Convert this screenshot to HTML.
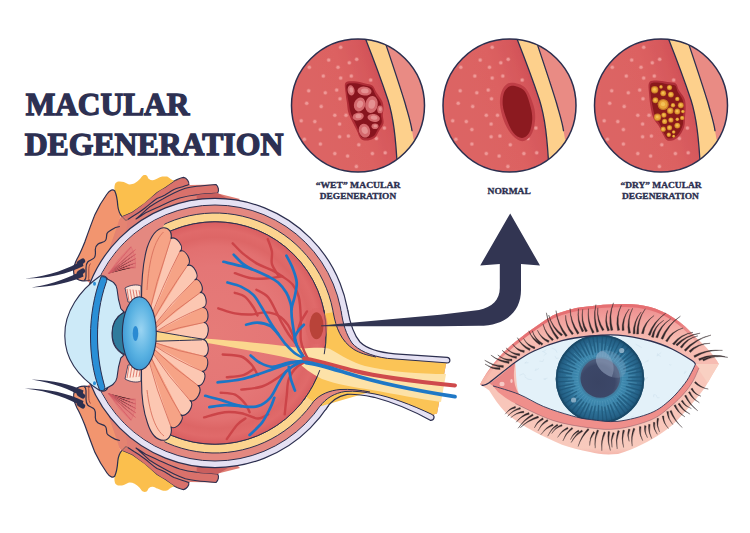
<!DOCTYPE html>
<html><head><meta charset="utf-8"><style>
html,body{margin:0;padding:0;background:#fff;width:750px;height:533px;overflow:hidden}
svg{display:block}
</style></head><body>
<svg width="750" height="533" viewBox="0 0 750 533">
<rect width="750" height="533" fill="#fff"/>

 <defs>
  <linearGradient id="cred" gradientUnits="userSpaceOnUse" x1="300" y1="120" x2="395" y2="88">
   <stop offset="0" stop-color="#dd6564"/>
   <stop offset="0.55" stop-color="#dc6262"/>
   <stop offset="0.8" stop-color="#d6585c"/>
   <stop offset="1" stop-color="#cc4a52"/>
  </linearGradient>
  <radialGradient id="inner" cx="215" cy="333" r="111.2" gradientUnits="userSpaceOnUse">
   <stop offset="0" stop-color="#e67b78"/>
   <stop offset="0.6" stop-color="#e47676"/>
   <stop offset="0.78" stop-color="#e27070"/>
   <stop offset="0.86" stop-color="#dd6666"/>
   <stop offset="0.93" stop-color="#e06a6a"/>
   <stop offset="1" stop-color="#d95e60"/>
  </radialGradient>
  <radialGradient id="lens" cx="0.55" cy="0.45" r="0.6">
   <stop offset="0" stop-color="#9ad4f2"/>
   <stop offset="0.6" stop-color="#5ab2e2"/>
   <stop offset="1" stop-color="#3a96d2"/>
  </radialGradient>
  <radialGradient id="iris" cx="600" cy="379" r="44" gradientUnits="userSpaceOnUse">
   <stop offset="0.44" stop-color="#4590b4"/>
   <stop offset="0.6" stop-color="#3a83a9"/>
   <stop offset="0.76" stop-color="#2f7298"/>
   <stop offset="0.9" stop-color="#27648a"/>
   <stop offset="1" stop-color="#1d5272"/>
  </radialGradient>
  <radialGradient id="pupil" cx="598" cy="382" r="21" gradientUnits="userSpaceOnUse">
   <stop offset="0" stop-color="#3a4464"/>
   <stop offset="0.8" stop-color="#3c4768"/>
   <stop offset="1" stop-color="#4a5878"/>
  </radialGradient>
  <linearGradient id="lidm" x1="0" y1="0" x2="0" y2="1">
   <stop offset="0" stop-color="#f3a29c"/>
   <stop offset="1" stop-color="#ec8884"/>
  </linearGradient>
 </defs>
 <g font-family="Liberation Serif" font-weight="bold" font-size="31.2" fill="#2d3052" stroke="#2d3052" stroke-width="1.3">
  <text x="25.65" y="114.75" textLength="163.7" lengthAdjust="spacingAndGlyphs">MACULAR</text>
  <text x="24.65" y="155.1" textLength="258.7" lengthAdjust="spacingAndGlyphs">DEGENERATION</text>
 </g>
 <g transform="translate(0,0.0)">
  <clipPath id="cc1"><circle cx="358" cy="105.5" r="66.5"/></clipPath>
  <g clip-path="url(#cc1)">
   <rect x="290" y="38" width="136" height="136" fill="url(#cred)"/>
   <g fill="#f3a6a4" opacity="0.8"><circle cx="340.7" cy="47.3" r="2.3" opacity="0.35"/><circle cx="340.7" cy="47.3" r="1.5"/><circle cx="328.7" cy="60" r="2.3" opacity="0.35"/><circle cx="328.7" cy="60" r="1.5"/><circle cx="349.3" cy="62.7" r="2.3" opacity="0.35"/><circle cx="349.3" cy="62.7" r="1.5"/><circle cx="356.7" cy="59.3" r="2.3" opacity="0.35"/><circle cx="356.7" cy="59.3" r="1.5"/><circle cx="309.3" cy="67.3" r="2.3" opacity="0.35"/><circle cx="309.3" cy="67.3" r="1.5"/><circle cx="338" cy="67.3" r="2.3" opacity="0.35"/><circle cx="338" cy="67.3" r="1.5"/><circle cx="323.3" cy="76" r="2.3" opacity="0.35"/><circle cx="323.3" cy="76" r="1.5"/><circle cx="340.7" cy="78" r="2.3" opacity="0.35"/><circle cx="340.7" cy="78" r="1.5"/><circle cx="351.3" cy="76" r="2.3" opacity="0.35"/><circle cx="351.3" cy="76" r="1.5"/><circle cx="370.7" cy="80" r="2.3" opacity="0.35"/><circle cx="370.7" cy="80" r="1.5"/><circle cx="308.7" cy="90.7" r="2.3" opacity="0.35"/><circle cx="308.7" cy="90.7" r="1.5"/><circle cx="325.3" cy="92.7" r="2.3" opacity="0.35"/><circle cx="325.3" cy="92.7" r="1.5"/><circle cx="336.7" cy="90" r="2.3" opacity="0.35"/><circle cx="336.7" cy="90" r="1.5"/><circle cx="340" cy="98.7" r="2.3" opacity="0.35"/><circle cx="340" cy="98.7" r="1.5"/><circle cx="306.7" cy="103.3" r="2.3" opacity="0.35"/><circle cx="306.7" cy="103.3" r="1.5"/><circle cx="321.2" cy="106.4" r="2.3" opacity="0.35"/><circle cx="321.2" cy="106.4" r="1.5"/><circle cx="334.8" cy="115.2" r="2.3" opacity="0.35"/><circle cx="334.8" cy="115.2" r="1.5"/><circle cx="346" cy="115.2" r="2.3" opacity="0.35"/><circle cx="346" cy="115.2" r="1.5"/><circle cx="301.2" cy="120.8" r="2.3" opacity="0.35"/><circle cx="301.2" cy="120.8" r="1.5"/><circle cx="314.8" cy="121.6" r="2.3" opacity="0.35"/><circle cx="314.8" cy="121.6" r="1.5"/><circle cx="339.6" cy="124" r="2.3" opacity="0.35"/><circle cx="339.6" cy="124" r="1.5"/><circle cx="320.4" cy="129.6" r="2.3" opacity="0.35"/><circle cx="320.4" cy="129.6" r="1.5"/><circle cx="304.4" cy="139.2" r="2.3" opacity="0.35"/><circle cx="304.4" cy="139.2" r="1.5"/><circle cx="339.6" cy="136.8" r="2.3" opacity="0.35"/><circle cx="339.6" cy="136.8" r="1.5"/><circle cx="348.4" cy="136" r="2.3" opacity="0.35"/><circle cx="348.4" cy="136" r="1.5"/><circle cx="320.4" cy="144" r="2.3" opacity="0.35"/><circle cx="320.4" cy="144" r="1.5"/><circle cx="358.8" cy="144.8" r="2.3" opacity="0.35"/><circle cx="358.8" cy="144.8" r="1.5"/><circle cx="376.4" cy="138.4" r="2.3" opacity="0.35"/><circle cx="376.4" cy="138.4" r="1.5"/><circle cx="384.4" cy="128" r="2.3" opacity="0.35"/><circle cx="384.4" cy="128" r="1.5"/><circle cx="334.8" cy="153.6" r="2.3" opacity="0.35"/><circle cx="334.8" cy="153.6" r="1.5"/><circle cx="347.6" cy="156" r="2.3" opacity="0.35"/><circle cx="347.6" cy="156" r="1.5"/><circle cx="372.4" cy="153.6" r="2.3" opacity="0.35"/><circle cx="372.4" cy="153.6" r="1.5"/><circle cx="385.2" cy="152.8" r="2.3" opacity="0.35"/><circle cx="385.2" cy="152.8" r="1.5"/><circle cx="356.4" cy="166.4" r="2.3" opacity="0.35"/><circle cx="356.4" cy="166.4" r="1.5"/></g>
   <path d="M345.5,82.7 C346.9,80.8 350.7,81.2 354.0,81.3 C357.3,81.4 362.1,82.7 365.2,83.4 C368.2,84.1 370.4,84.0 372.3,85.5 C374.2,87.0 374.9,89.9 376.5,92.5 C378.1,95.1 380.9,98.4 382.1,101.0 C383.3,103.6 383.4,105.7 383.5,108.0 C383.6,110.3 382.8,112.4 382.8,115.0 C382.8,117.6 384.1,120.9 383.5,123.5 C382.9,126.1 380.7,128.2 379.3,130.6 C377.9,132.9 376.9,136.0 375.0,137.6 C373.1,139.2 370.3,140.2 368.0,140.4 C365.7,140.6 362.9,140.6 361.0,139.0 C359.1,137.4 358.2,133.4 356.8,130.6 C355.4,127.8 353.9,125.1 352.5,122.1 C351.1,119.0 349.2,115.6 348.3,112.3 C347.4,109.0 347.4,105.7 346.9,102.4 C346.4,99.1 345.7,95.8 345.5,92.5 C345.3,89.2 344.1,84.6 345.5,82.7 Z" fill="#b02e38"/><path d="M346.8,84.5 C348.1,82.7 351.7,83.2 354.8,83.3 C357.9,83.5 362.4,84.9 365.2,85.6 C368.0,86.3 370.0,86.2 371.7,87.6 C373.4,89.1 373.9,92.0 375.3,94.4 C376.7,96.8 379.2,99.7 380.2,102.0 C381.2,104.4 381.2,106.2 381.3,108.2 C381.4,110.3 380.6,112.1 380.7,114.4 C380.8,116.7 382.2,119.8 381.7,122.2 C381.3,124.6 379.3,126.6 378.1,128.8 C376.8,131.0 376.0,133.9 374.3,135.5 C372.6,137.1 370.0,138.0 367.8,138.2 C365.7,138.4 363.0,138.4 361.3,136.8 C359.6,135.2 358.9,131.3 357.7,128.6 C356.5,125.9 355.3,123.4 354.1,120.6 C352.9,117.8 351.3,114.9 350.5,112.0 C349.6,109.1 349.5,106.2 348.9,103.2 C348.4,100.2 347.5,97.1 347.2,94.0 C346.8,90.8 345.5,86.2 346.8,84.5 Z" fill="#88141e"/><g fill="#d46a6e"><ellipse cx="351.1" cy="90.4" rx="3.47" ry="5.15" transform="rotate(-10 351.1 90.4)"/><ellipse cx="364.5" cy="91.1" rx="7.06" ry="4.48" transform="rotate(5 364.5 91.1)"/><ellipse cx="359.6" cy="104.5" rx="5.60" ry="7.06" transform="rotate(20 359.6 104.5)"/><ellipse cx="371.5" cy="104.5" rx="6.27" ry="8.62" transform="rotate(10 371.5 104.5)"/><ellipse cx="380" cy="109.4" rx="2.80" ry="3.92" transform="rotate(0 380 109.4)"/><ellipse cx="358.2" cy="116.5" rx="5.60" ry="3.92" transform="rotate(-10 358.2 116.5)"/><ellipse cx="373.7" cy="117.9" rx="6.27" ry="3.92" transform="rotate(10 373.7 117.9)"/><ellipse cx="364.5" cy="130.6" rx="5.60" ry="7.06" transform="rotate(-20 364.5 130.6)"/><ellipse cx="375" cy="126.3" rx="3.47" ry="2.80" transform="rotate(0 375 126.3)"/></g><g fill="#e99a9a" opacity="0.8"><ellipse cx="351.40000000000003" cy="90.10000000000001" rx="1.8599999999999999" ry="2.76" transform="rotate(-10 351.1 90.4)"/><ellipse cx="364.8" cy="90.8" rx="3.78" ry="2.4" transform="rotate(5 364.5 91.1)"/><ellipse cx="359.90000000000003" cy="104.2" rx="3.0" ry="3.78" transform="rotate(20 359.6 104.5)"/><ellipse cx="371.8" cy="104.2" rx="3.36" ry="4.62" transform="rotate(10 371.5 104.5)"/><ellipse cx="380.3" cy="109.10000000000001" rx="1.5" ry="2.1" transform="rotate(0 380 109.4)"/><ellipse cx="358.5" cy="116.2" rx="3.0" ry="2.1" transform="rotate(-10 358.2 116.5)"/><ellipse cx="374.0" cy="117.60000000000001" rx="3.36" ry="2.1" transform="rotate(10 373.7 117.9)"/><ellipse cx="364.8" cy="130.29999999999998" rx="3.0" ry="3.78" transform="rotate(-20 364.5 130.6)"/><ellipse cx="375.3" cy="126.0" rx="1.8599999999999999" ry="1.5" transform="rotate(0 375 126.3)"/></g>
   <path d="M362,30 C368,45 378,70 388,100 C393,116 396,135 398,180 L440,180 L440,30 Z" fill="#fdd08c" stroke="#2c2f4f" stroke-width="1.3"/>
   <path d="M381,30 C387,48 398,80 405,103 C408,114 411,123 412,130.7 C412.5,133 413,136 413.5,139.5 L440,139.5 L440,30 Z" fill="#e98b84"/>
   <path d="M381,30 C387,48 398,80 405,103 C408,114 411,123 412,130.7" fill="none" stroke="#2c2f4f" stroke-width="1.3" stroke-linecap="round"/>
  </g>
  <circle cx="358" cy="105.5" r="66.5" fill="none" stroke="#2c2f4f" stroke-width="1.5"/>
 </g>
 <g transform="translate(151.5,0.0)">
  <clipPath id="cc2"><circle cx="358" cy="105.5" r="66.5"/></clipPath>
  <g clip-path="url(#cc2)">
   <rect x="290" y="38" width="136" height="136" fill="url(#cred)"/>
   <g fill="#f3a6a4" opacity="0.8"><circle cx="340.7" cy="47.3" r="2.3" opacity="0.35"/><circle cx="340.7" cy="47.3" r="1.5"/><circle cx="328.7" cy="60" r="2.3" opacity="0.35"/><circle cx="328.7" cy="60" r="1.5"/><circle cx="349.3" cy="62.7" r="2.3" opacity="0.35"/><circle cx="349.3" cy="62.7" r="1.5"/><circle cx="356.7" cy="59.3" r="2.3" opacity="0.35"/><circle cx="356.7" cy="59.3" r="1.5"/><circle cx="309.3" cy="67.3" r="2.3" opacity="0.35"/><circle cx="309.3" cy="67.3" r="1.5"/><circle cx="338" cy="67.3" r="2.3" opacity="0.35"/><circle cx="338" cy="67.3" r="1.5"/><circle cx="323.3" cy="76" r="2.3" opacity="0.35"/><circle cx="323.3" cy="76" r="1.5"/><circle cx="340.7" cy="78" r="2.3" opacity="0.35"/><circle cx="340.7" cy="78" r="1.5"/><circle cx="351.3" cy="76" r="2.3" opacity="0.35"/><circle cx="351.3" cy="76" r="1.5"/><circle cx="370.7" cy="80" r="2.3" opacity="0.35"/><circle cx="370.7" cy="80" r="1.5"/><circle cx="308.7" cy="90.7" r="2.3" opacity="0.35"/><circle cx="308.7" cy="90.7" r="1.5"/><circle cx="325.3" cy="92.7" r="2.3" opacity="0.35"/><circle cx="325.3" cy="92.7" r="1.5"/><circle cx="336.7" cy="90" r="2.3" opacity="0.35"/><circle cx="336.7" cy="90" r="1.5"/><circle cx="340" cy="98.7" r="2.3" opacity="0.35"/><circle cx="340" cy="98.7" r="1.5"/><circle cx="306.7" cy="103.3" r="2.3" opacity="0.35"/><circle cx="306.7" cy="103.3" r="1.5"/><circle cx="321.2" cy="106.4" r="2.3" opacity="0.35"/><circle cx="321.2" cy="106.4" r="1.5"/><circle cx="334.8" cy="115.2" r="2.3" opacity="0.35"/><circle cx="334.8" cy="115.2" r="1.5"/><circle cx="346" cy="115.2" r="2.3" opacity="0.35"/><circle cx="346" cy="115.2" r="1.5"/><circle cx="301.2" cy="120.8" r="2.3" opacity="0.35"/><circle cx="301.2" cy="120.8" r="1.5"/><circle cx="314.8" cy="121.6" r="2.3" opacity="0.35"/><circle cx="314.8" cy="121.6" r="1.5"/><circle cx="339.6" cy="124" r="2.3" opacity="0.35"/><circle cx="339.6" cy="124" r="1.5"/><circle cx="320.4" cy="129.6" r="2.3" opacity="0.35"/><circle cx="320.4" cy="129.6" r="1.5"/><circle cx="304.4" cy="139.2" r="2.3" opacity="0.35"/><circle cx="304.4" cy="139.2" r="1.5"/><circle cx="339.6" cy="136.8" r="2.3" opacity="0.35"/><circle cx="339.6" cy="136.8" r="1.5"/><circle cx="348.4" cy="136" r="2.3" opacity="0.35"/><circle cx="348.4" cy="136" r="1.5"/><circle cx="320.4" cy="144" r="2.3" opacity="0.35"/><circle cx="320.4" cy="144" r="1.5"/><circle cx="358.8" cy="144.8" r="2.3" opacity="0.35"/><circle cx="358.8" cy="144.8" r="1.5"/><circle cx="376.4" cy="138.4" r="2.3" opacity="0.35"/><circle cx="376.4" cy="138.4" r="1.5"/><circle cx="384.4" cy="128" r="2.3" opacity="0.35"/><circle cx="384.4" cy="128" r="1.5"/><circle cx="334.8" cy="153.6" r="2.3" opacity="0.35"/><circle cx="334.8" cy="153.6" r="1.5"/><circle cx="347.6" cy="156" r="2.3" opacity="0.35"/><circle cx="347.6" cy="156" r="1.5"/><circle cx="372.4" cy="153.6" r="2.3" opacity="0.35"/><circle cx="372.4" cy="153.6" r="1.5"/><circle cx="385.2" cy="152.8" r="2.3" opacity="0.35"/><circle cx="385.2" cy="152.8" r="1.5"/><circle cx="356.4" cy="166.4" r="2.3" opacity="0.35"/><circle cx="356.4" cy="166.4" r="1.5"/></g>
   <path d="M359.6,82.7 C363.4,82.5 369.9,83.8 373.7,87.7 C377.5,91.6 380.6,100.4 382.2,106.0 C383.8,111.6 384.0,116.6 383.5,121.5 C383.0,126.4 381.4,132.3 379.3,135.6 C377.2,138.9 373.9,141.2 370.9,141.2 C367.8,141.2 364.1,138.9 361.0,135.6 C357.9,132.3 354.7,126.9 352.6,121.5 C350.5,116.1 348.6,108.6 348.4,103.2 C348.2,97.8 349.3,92.4 351.2,89.0 C353.1,85.6 355.9,82.9 359.6,82.7 Z" fill="#bf3e46"/><path d="M360.3,85.8 C363.6,85.7 369.6,87.2 372.8,90.8 C375.9,94.3 377.9,102.3 379.2,107.2 C380.5,112.1 380.9,115.7 380.7,120.0 C380.4,124.3 379.4,129.8 377.7,132.8 C376.0,135.8 373.1,138.1 370.4,138.0 C367.7,138.0 364.2,135.5 361.7,132.5 C359.2,129.4 357.0,124.4 355.3,119.7 C353.5,115.1 351.6,109.3 351.2,104.7 C350.9,100.0 351.4,94.8 352.9,91.7 C354.4,88.6 357.0,86.0 360.3,85.8 Z" fill="#8c1a20"/>
   <path d="M362,30 C368,45 378,70 388,100 C393,116 396,135 398,180 L440,180 L440,30 Z" fill="#fdd08c" stroke="#2c2f4f" stroke-width="1.3"/>
   <path d="M381,30 C387,48 398,80 405,103 C408,114 411,123 412,130.7 C412.5,133 413,136 413.5,139.5 L440,139.5 L440,30 Z" fill="#e98b84"/>
   <path d="M381,30 C387,48 398,80 405,103 C408,114 411,123 412,130.7" fill="none" stroke="#2c2f4f" stroke-width="1.3" stroke-linecap="round"/>
  </g>
  <circle cx="358" cy="105.5" r="66.5" fill="none" stroke="#2c2f4f" stroke-width="1.5"/>
 </g>
 <g transform="translate(303,0.0)">
  <clipPath id="cc3"><circle cx="358" cy="105.5" r="66.5"/></clipPath>
  <g clip-path="url(#cc3)">
   <rect x="290" y="38" width="136" height="136" fill="url(#cred)"/>
   <g fill="#f3a6a4" opacity="0.8"><circle cx="340.7" cy="47.3" r="2.3" opacity="0.35"/><circle cx="340.7" cy="47.3" r="1.5"/><circle cx="328.7" cy="60" r="2.3" opacity="0.35"/><circle cx="328.7" cy="60" r="1.5"/><circle cx="349.3" cy="62.7" r="2.3" opacity="0.35"/><circle cx="349.3" cy="62.7" r="1.5"/><circle cx="356.7" cy="59.3" r="2.3" opacity="0.35"/><circle cx="356.7" cy="59.3" r="1.5"/><circle cx="309.3" cy="67.3" r="2.3" opacity="0.35"/><circle cx="309.3" cy="67.3" r="1.5"/><circle cx="338" cy="67.3" r="2.3" opacity="0.35"/><circle cx="338" cy="67.3" r="1.5"/><circle cx="323.3" cy="76" r="2.3" opacity="0.35"/><circle cx="323.3" cy="76" r="1.5"/><circle cx="340.7" cy="78" r="2.3" opacity="0.35"/><circle cx="340.7" cy="78" r="1.5"/><circle cx="351.3" cy="76" r="2.3" opacity="0.35"/><circle cx="351.3" cy="76" r="1.5"/><circle cx="370.7" cy="80" r="2.3" opacity="0.35"/><circle cx="370.7" cy="80" r="1.5"/><circle cx="308.7" cy="90.7" r="2.3" opacity="0.35"/><circle cx="308.7" cy="90.7" r="1.5"/><circle cx="325.3" cy="92.7" r="2.3" opacity="0.35"/><circle cx="325.3" cy="92.7" r="1.5"/><circle cx="336.7" cy="90" r="2.3" opacity="0.35"/><circle cx="336.7" cy="90" r="1.5"/><circle cx="340" cy="98.7" r="2.3" opacity="0.35"/><circle cx="340" cy="98.7" r="1.5"/><circle cx="306.7" cy="103.3" r="2.3" opacity="0.35"/><circle cx="306.7" cy="103.3" r="1.5"/><circle cx="321.2" cy="106.4" r="2.3" opacity="0.35"/><circle cx="321.2" cy="106.4" r="1.5"/><circle cx="334.8" cy="115.2" r="2.3" opacity="0.35"/><circle cx="334.8" cy="115.2" r="1.5"/><circle cx="346" cy="115.2" r="2.3" opacity="0.35"/><circle cx="346" cy="115.2" r="1.5"/><circle cx="301.2" cy="120.8" r="2.3" opacity="0.35"/><circle cx="301.2" cy="120.8" r="1.5"/><circle cx="314.8" cy="121.6" r="2.3" opacity="0.35"/><circle cx="314.8" cy="121.6" r="1.5"/><circle cx="339.6" cy="124" r="2.3" opacity="0.35"/><circle cx="339.6" cy="124" r="1.5"/><circle cx="320.4" cy="129.6" r="2.3" opacity="0.35"/><circle cx="320.4" cy="129.6" r="1.5"/><circle cx="304.4" cy="139.2" r="2.3" opacity="0.35"/><circle cx="304.4" cy="139.2" r="1.5"/><circle cx="339.6" cy="136.8" r="2.3" opacity="0.35"/><circle cx="339.6" cy="136.8" r="1.5"/><circle cx="348.4" cy="136" r="2.3" opacity="0.35"/><circle cx="348.4" cy="136" r="1.5"/><circle cx="320.4" cy="144" r="2.3" opacity="0.35"/><circle cx="320.4" cy="144" r="1.5"/><circle cx="358.8" cy="144.8" r="2.3" opacity="0.35"/><circle cx="358.8" cy="144.8" r="1.5"/><circle cx="376.4" cy="138.4" r="2.3" opacity="0.35"/><circle cx="376.4" cy="138.4" r="1.5"/><circle cx="384.4" cy="128" r="2.3" opacity="0.35"/><circle cx="384.4" cy="128" r="1.5"/><circle cx="334.8" cy="153.6" r="2.3" opacity="0.35"/><circle cx="334.8" cy="153.6" r="1.5"/><circle cx="347.6" cy="156" r="2.3" opacity="0.35"/><circle cx="347.6" cy="156" r="1.5"/><circle cx="372.4" cy="153.6" r="2.3" opacity="0.35"/><circle cx="372.4" cy="153.6" r="1.5"/><circle cx="385.2" cy="152.8" r="2.3" opacity="0.35"/><circle cx="385.2" cy="152.8" r="1.5"/><circle cx="356.4" cy="166.4" r="2.3" opacity="0.35"/><circle cx="356.4" cy="166.4" r="1.5"/></g>
   <path d="M346.1,82.7 C347.3,80.5 350.1,80.7 353.1,80.6 C356.2,80.5 361.1,81.5 364.4,82.0 C367.7,82.5 370.9,82.1 372.8,83.4 C374.7,84.7 374.3,87.2 375.7,89.7 C377.1,92.2 380.1,95.4 381.3,98.2 C382.5,101.0 382.6,103.3 382.7,106.6 C382.8,109.9 382.2,114.6 382.0,117.9 C381.8,121.2 382.1,123.5 381.3,126.3 C380.5,129.1 378.8,132.6 377.1,134.8 C375.5,137.0 373.5,138.8 371.4,139.7 C369.3,140.6 366.3,141.2 364.4,140.4 C362.5,139.6 361.6,137.2 360.2,134.8 C358.8,132.5 357.6,129.1 356.0,126.3 C354.4,123.5 351.7,121.2 350.3,117.9 C348.9,114.6 348.2,110.6 347.5,106.6 C346.8,102.6 346.3,97.9 346.1,93.9 C345.9,89.9 344.9,84.9 346.1,82.7 Z" fill="#b0303a"/><path d="M347.4,84.5 C348.4,82.4 351.1,82.7 354.0,82.6 C356.8,82.6 361.4,83.7 364.5,84.2 C367.5,84.7 370.5,84.3 372.2,85.5 C373.9,86.8 373.5,89.3 374.7,91.7 C375.9,94.0 378.5,96.9 379.5,99.5 C380.5,102.0 380.4,104.1 380.5,107.0 C380.6,109.9 380.2,114.0 380.0,116.9 C379.9,119.9 380.4,122.1 379.8,124.7 C379.1,127.4 377.6,130.7 376.2,132.8 C374.7,134.9 372.9,136.6 371.0,137.5 C369.0,138.4 366.2,139.0 364.5,138.2 C362.8,137.4 361.9,134.9 360.6,132.6 C359.4,130.3 358.5,127.0 357.1,124.4 C355.7,121.7 353.5,119.7 352.2,116.8 C351.0,113.9 350.4,110.5 349.7,107.0 C348.9,103.4 348.2,99.0 347.8,95.3 C347.4,91.5 346.4,86.6 347.4,84.5 Z" fill="#8a1a1c"/><g fill="#c87a28"><circle cx="351.7" cy="89.7" r="3.68"/><circle cx="358.0" cy="86.9" r="1.78"/><circle cx="366.5" cy="87.6" r="2.62"/><circle cx="360.2" cy="93.2" r="2.94"/><circle cx="367.9" cy="94.6" r="2.94"/><circle cx="352.4" cy="100.3" r="2.94"/><circle cx="360.2" cy="104.5" r="5.57"/><circle cx="370.0" cy="105.2" r="2.21"/><circle cx="374.3" cy="98.9" r="2.21"/><circle cx="377.8" cy="105.2" r="2.94"/><circle cx="354.5" cy="117.2" r="3.68"/><circle cx="360.9" cy="115.1" r="2.62"/><circle cx="367.2" cy="110.8" r="3.26"/><circle cx="374.3" cy="111.5" r="2.94"/><circle cx="379.9" cy="111.5" r="1.78"/><circle cx="361.6" cy="121.4" r="2.62"/><circle cx="367.9" cy="120" r="2.62"/><circle cx="374.3" cy="119.3" r="1.78"/><circle cx="379.2" cy="117.9" r="2.21"/><circle cx="360.2" cy="129.2" r="2.62"/><circle cx="366.5" cy="127.7" r="2.62"/><circle cx="374.3" cy="125.6" r="2.94"/><circle cx="365.8" cy="134.8" r="2.21"/><circle cx="370.7" cy="132" r="1.78"/><circle cx="370.7" cy="136.2" r="1.47"/></g><g fill="#e9a63a"><circle cx="351.7" cy="89.7" r="2.80"/><circle cx="358.0" cy="86.9" r="1.36"/><circle cx="366.5" cy="87.6" r="2.00"/><circle cx="360.2" cy="93.2" r="2.24"/><circle cx="367.9" cy="94.6" r="2.24"/><circle cx="352.4" cy="100.3" r="2.24"/><circle cx="360.2" cy="104.5" r="4.24"/><circle cx="370.0" cy="105.2" r="1.68"/><circle cx="374.3" cy="98.9" r="1.68"/><circle cx="377.8" cy="105.2" r="2.24"/><circle cx="354.5" cy="117.2" r="2.80"/><circle cx="360.9" cy="115.1" r="2.00"/><circle cx="367.2" cy="110.8" r="2.48"/><circle cx="374.3" cy="111.5" r="2.24"/><circle cx="379.9" cy="111.5" r="1.36"/><circle cx="361.6" cy="121.4" r="2.00"/><circle cx="367.9" cy="120" r="2.00"/><circle cx="374.3" cy="119.3" r="1.36"/><circle cx="379.2" cy="117.9" r="1.68"/><circle cx="360.2" cy="129.2" r="2.00"/><circle cx="366.5" cy="127.7" r="2.00"/><circle cx="374.3" cy="125.6" r="2.24"/><circle cx="365.8" cy="134.8" r="1.68"/><circle cx="370.7" cy="132" r="1.36"/><circle cx="370.7" cy="136.2" r="1.12"/></g><g fill="#f5c85e" opacity="0.8"><circle cx="351.5" cy="89.4" r="1.40"/><circle cx="357.8" cy="86.6" r="0.68"/><circle cx="366.3" cy="87.3" r="1.00"/><circle cx="360.0" cy="92.9" r="1.12"/><circle cx="367.7" cy="94.3" r="1.12"/><circle cx="352.2" cy="100.0" r="1.12"/><circle cx="360.0" cy="104.2" r="2.12"/><circle cx="369.8" cy="104.9" r="0.84"/><circle cx="374.1" cy="98.6" r="0.84"/><circle cx="377.6" cy="104.9" r="1.12"/><circle cx="354.3" cy="116.9" r="1.40"/><circle cx="360.7" cy="114.8" r="1.00"/><circle cx="367.0" cy="110.5" r="1.24"/><circle cx="374.1" cy="111.2" r="1.12"/><circle cx="379.7" cy="111.2" r="0.68"/><circle cx="361.4" cy="121.1" r="1.00"/><circle cx="367.7" cy="119.7" r="1.00"/><circle cx="374.1" cy="119.0" r="0.68"/><circle cx="379.0" cy="117.6" r="0.84"/><circle cx="360.0" cy="128.9" r="1.00"/><circle cx="366.3" cy="127.4" r="1.00"/><circle cx="374.1" cy="125.3" r="1.12"/><circle cx="365.6" cy="134.5" r="0.84"/><circle cx="370.5" cy="131.7" r="0.68"/><circle cx="370.5" cy="135.9" r="0.56"/></g>
   <path d="M362,30 C368,45 378,70 388,100 C393,116 396,135 398,180 L440,180 L440,30 Z" fill="#fdd08c" stroke="#2c2f4f" stroke-width="1.3"/>
   <path d="M381,30 C387,48 398,80 405,103 C408,114 411,123 412,130.7 C412.5,133 413,136 413.5,139.5 L440,139.5 L440,30 Z" fill="#e98b84"/>
   <path d="M381,30 C387,48 398,80 405,103 C408,114 411,123 412,130.7" fill="none" stroke="#2c2f4f" stroke-width="1.3" stroke-linecap="round"/>
  </g>
  <circle cx="358" cy="105.5" r="66.5" fill="none" stroke="#2c2f4f" stroke-width="1.5"/>
 </g>
 <g font-family="Liberation Serif" font-weight="bold" font-size="9.2" fill="#2c2f4f" stroke="#2c2f4f" stroke-width="0.35" text-anchor="middle">
  <text x="358" y="187.6" textLength="84.7" lengthAdjust="spacingAndGlyphs">“WET” MACULAR</text>
  <text x="358" y="199.3" textLength="76.3" lengthAdjust="spacingAndGlyphs">DEGENERATION</text>
  <text x="509.2" y="194" textLength="43.2" lengthAdjust="spacingAndGlyphs">NORMAL</text>
  <text x="661" y="187.6" textLength="81.1" lengthAdjust="spacingAndGlyphs">“DRY” MACULAR</text>
  <text x="660.4" y="199.3" textLength="77" lengthAdjust="spacingAndGlyphs">DEGENERATION</text>
 </g><g id="eyeside"><path d="M87,281 L89.3,275.9 L96,260 L105,242 L116.3,221.8 L121.8,216.3 L131.9,212 L140,206 L157,192 L174,181 L183.6,177.4 L190,185 L216,184.5 L218,193.5 L240,199 L200,240 L100,290 Z" fill="#e07e74"/><path d="M136,219 C142,214 148,208 150,206.5 C155,203.5 158,201.5 162.7,199 C167,196.5 170,195 174,193 C178,191 182,189.5 185.4,188.3 C189,187.2 193,186.7 196.7,186.3 C203,185.6 210,185 216,184.5 C218.5,186.5 219.2,190.5 217.7,193 C210,193.5 203,194 196.7,194.7 C190,195.5 185,196.5 179.7,198 C174,199.8 168,202.4 162.7,204.9 C156,208 150,211 145.7,212.8 C142,215 139,217.5 136,219 Z" fill="#d9716b" stroke="#2c2f4f" stroke-width="1.1" stroke-linejoin="round"/><path d="M196.7,194.7 C203,194 210,193.5 217.7,193 L228,199 C215,199 205,199.6 196.7,201 Z" fill="#c95f5e"/><path d="M121.8,216.3 C125,215 129,213.3 131.9,212 C135,210 138,207.5 140,206 C145,202.5 151,197 157,192 C160,189.8 162.5,188.5 165,187.3 C168,185 171,183 174,181 C177,179.5 180.5,177.8 183.6,177.4 C186.5,178 189.5,181.5 188.8,184.5 C184,186.5 178,188 174,189.5 C170.5,191.3 168,193.3 165,195 C162,196.6 159.5,197.5 157,198.5 C152.5,201.5 149,205 145,208 C141,211 138,213.3 134,215.5 C131,217.5 128,219.5 126,220.5 Z" fill="#d9716b" stroke="#2c2f4f" stroke-width="1.1" stroke-linejoin="round"/><path d="M114.8,191 C114,188 114.5,185 115.4,183.2 C116.5,182 117.5,181.4 119,181.4 C121,181.3 122.5,181.6 123.8,182 C126,182.8 128,184.4 129.8,184.4 C131.5,184.3 133,184 134.6,183.2 C136.5,182 138,181 139.4,179.6 C140.8,178 141.8,176 143,175.4 C144.2,174.8 145.6,174.9 146.6,175.4 C147.8,176.2 148,178.5 149,179 C150.2,179.8 151.4,180.3 152.6,180.2 C154.5,180 156,178.8 157.4,178.4 C159,177.6 160.6,176.9 162.2,176.6 C163.8,176.3 165.5,176.3 167,176.6 C168.6,177.1 169.5,178.3 170.6,179 C171.8,179.8 173,180.4 174.2,180.8 L183.6,177.4 L174,181 L165,187.3 L157,192 L144.6,203 L131.9,212 L121.8,216.3 C119.5,215 119,213.2 118.2,209 117.8,206 C117.5,202 117.2,196.4 114.8,191 Z" fill="#fbbf4d"/><path d="M114.8,191 C113,189 110,189.6 107,194 C103,199.5 98,208 95,214.4 C92,222 88,233 84.8,242 C82,249 80,254 77,259 C74,265 72.5,271 74.5,276 C76.5,280 81,282 87.2,280.6 L96,278 L104,262 L110,247 L116,230 L120.8,215.6 C119,213.2 118.2,209 117.8,206 C117.5,202 117.2,196.4 114.8,191 Z" fill="#f2956f"/><path d="M120.8,215.6 L116,230 L110,247 L126,232 L128,219 Z" fill="#e6876f" opacity="0.6"/><path d="M90,280 C85,281.5 77,281.5 74.5,276 C72.5,271 74,265 77,259 C80,254 82,249 84.8,242 C88,233 92,222 95,214.4 C98,208 103,199.5 107,194 C110,189.6 113,189 114.8,191 C117.2,196.4 117.5,202 117.8,206 C118.2,209 119,213.2 121.8,216.3" fill="none" stroke="#2c2f4f" stroke-width="1.2" stroke-linejoin="round"/><path d="M119.8,226.5 C116,227 114,228 112,229.5 C110,231 107.8,231.5 107,233.5 C106.2,236 107,238.5 105.5,240.5 C104,242.5 100,242.5 97.8,244.2 C95.8,245.8 95.3,247 95.3,249.5 C95.3,252 96,255 94.5,257.5 C93,259.8 89.5,260 87.7,262 C86,264 86,266 86,268 L86,276.3 C86,278.5 85.5,279.5 84.3,280.5" fill="none" stroke="#2c2f4f" stroke-width="1.2"/><path d="M90.5,263.5 C89,265.5 88.8,267.5 88.8,270 L88.8,277 C88.8,279 88.3,280 87.5,281" fill="none" stroke="#a04a40" stroke-width="1"/><path d="M82,260.5 C70,268 50,276 24.8,278.6 C48,278.5 68,274 83.5,266 Z" fill="#2c2f4f"/><path d="M82,270.5 C70,277 55,284 31.4,287.4 C54,286.5 70,282.5 83.5,276.5 Z" fill="#2c2f4f"/><rect x="76.5" y="259.5" width="9" height="5" rx="2.3" transform="rotate(-32 81 262)" fill="#2c2f4f"/><rect x="76.5" y="269.5" width="9" height="5" rx="2.3" transform="rotate(-32 81 272)" fill="#2c2f4f"/><g transform="matrix(1,0,0,-1,0,667.0)"><path d="M87,281 L89.3,275.9 L96,260 L105,242 L116.3,221.8 L121.8,216.3 L131.9,212 L140,206 L157,192 L174,181 L183.6,177.4 L190,185 L216,184.5 L218,193.5 L240,199 L200,240 L100,290 Z" fill="#e07e74"/><path d="M136,219 C142,214 148,208 150,206.5 C155,203.5 158,201.5 162.7,199 C167,196.5 170,195 174,193 C178,191 182,189.5 185.4,188.3 C189,187.2 193,186.7 196.7,186.3 C203,185.6 210,185 216,184.5 C218.5,186.5 219.2,190.5 217.7,193 C210,193.5 203,194 196.7,194.7 C190,195.5 185,196.5 179.7,198 C174,199.8 168,202.4 162.7,204.9 C156,208 150,211 145.7,212.8 C142,215 139,217.5 136,219 Z" fill="#d9716b" stroke="#2c2f4f" stroke-width="1.1" stroke-linejoin="round"/><path d="M196.7,194.7 C203,194 210,193.5 217.7,193 L228,199 C215,199 205,199.6 196.7,201 Z" fill="#c95f5e"/><path d="M121.8,216.3 C125,215 129,213.3 131.9,212 C135,210 138,207.5 140,206 C145,202.5 151,197 157,192 C160,189.8 162.5,188.5 165,187.3 C168,185 171,183 174,181 C177,179.5 180.5,177.8 183.6,177.4 C186.5,178 189.5,181.5 188.8,184.5 C184,186.5 178,188 174,189.5 C170.5,191.3 168,193.3 165,195 C162,196.6 159.5,197.5 157,198.5 C152.5,201.5 149,205 145,208 C141,211 138,213.3 134,215.5 C131,217.5 128,219.5 126,220.5 Z" fill="#d9716b" stroke="#2c2f4f" stroke-width="1.1" stroke-linejoin="round"/><path d="M114.8,191 C114,188 114.5,185 115.4,183.2 C116.5,182 117.5,181.4 119,181.4 C121,181.3 122.5,181.6 123.8,182 C126,182.8 128,184.4 129.8,184.4 C131.5,184.3 133,184 134.6,183.2 C136.5,182 138,181 139.4,179.6 C140.8,178 141.8,176 143,175.4 C144.2,174.8 145.6,174.9 146.6,175.4 C147.8,176.2 148,178.5 149,179 C150.2,179.8 151.4,180.3 152.6,180.2 C154.5,180 156,178.8 157.4,178.4 C159,177.6 160.6,176.9 162.2,176.6 C163.8,176.3 165.5,176.3 167,176.6 C168.6,177.1 169.5,178.3 170.6,179 C171.8,179.8 173,180.4 174.2,180.8 L183.6,177.4 L174,181 L165,187.3 L157,192 L144.6,203 L131.9,212 L121.8,216.3 C119.5,215 119,213.2 118.2,209 117.8,206 C117.5,202 117.2,196.4 114.8,191 Z" fill="#fbbf4d"/><path d="M114.8,191 C113,189 110,189.6 107,194 C103,199.5 98,208 95,214.4 C92,222 88,233 84.8,242 C82,249 80,254 77,259 C74,265 72.5,271 74.5,276 C76.5,280 81,282 87.2,280.6 L96,278 L104,262 L110,247 L116,230 L120.8,215.6 C119,213.2 118.2,209 117.8,206 C117.5,202 117.2,196.4 114.8,191 Z" fill="#f2956f"/><path d="M120.8,215.6 L116,230 L110,247 L126,232 L128,219 Z" fill="#e6876f" opacity="0.6"/><path d="M90,280 C85,281.5 77,281.5 74.5,276 C72.5,271 74,265 77,259 C80,254 82,249 84.8,242 C88,233 92,222 95,214.4 C98,208 103,199.5 107,194 C110,189.6 113,189 114.8,191 C117.2,196.4 117.5,202 117.8,206 C118.2,209 119,213.2 121.8,216.3" fill="none" stroke="#2c2f4f" stroke-width="1.2" stroke-linejoin="round"/><path d="M119.8,226.5 C116,227 114,228 112,229.5 C110,231 107.8,231.5 107,233.5 C106.2,236 107,238.5 105.5,240.5 C104,242.5 100,242.5 97.8,244.2 C95.8,245.8 95.3,247 95.3,249.5 C95.3,252 96,255 94.5,257.5 C93,259.8 89.5,260 87.7,262 C86,264 86,266 86,268 L86,276.3 C86,278.5 85.5,279.5 84.3,280.5" fill="none" stroke="#2c2f4f" stroke-width="1.2"/><path d="M90.5,263.5 C89,265.5 88.8,267.5 88.8,270 L88.8,277 C88.8,279 88.3,280 87.5,281" fill="none" stroke="#a04a40" stroke-width="1"/><path d="M82,260.5 C70,268 50,276 24.8,278.6 C48,278.5 68,274 83.5,266 Z" fill="#2c2f4f"/><path d="M82,270.5 C70,277 55,284 31.4,287.4 C54,286.5 70,282.5 83.5,276.5 Z" fill="#2c2f4f"/><rect x="76.5" y="259.5" width="9" height="5" rx="2.3" transform="rotate(-32 81 262)" fill="#2c2f4f"/><rect x="76.5" y="269.5" width="9" height="5" rx="2.3" transform="rotate(-32 81 272)" fill="#2c2f4f"/></g><path d="M347.6,309.6 C350,323 354,335 360,342 C367,349 380,352.5 395,353.8 L447.2,357.3 C450.5,357.5 451,363 447.2,362.9 L446,364 C443,380 440,398 437,413.5 L432.5,414.7 C435,416 434.5,420.5 430.3,420.3 C410,409 390,401.5 375,397.5 C365,395.5 356,393.5 347,394.4 C338,396 330,402 325.3,410.2 A134.6,134.6 0 0 0 347.6,309.6 Z" fill="#e5e1f3"/><circle cx="215" cy="333" r="134.6" fill="#e5e1f3" stroke="#2c2f4f" stroke-width="1.2"/><circle cx="215" cy="333" r="128" fill="#e48880" stroke="#2c2f4f" stroke-width="1"/><path d="M160.5,226.1 A120,120 0 1 1 160.5,439.9 L164.5,432.1 A111.2,111.2 0 1 0 164.5,233.9 Z" fill="#fcd48f" stroke="#2c2f4f" stroke-width="1"/><circle cx="215" cy="333" r="111.2" fill="url(#inner)" stroke="#2c2f4f" stroke-width="1"/><path d="M347.6,309.6 C350,323 354,335 360,342 C367,349 380,352.5 395,353.8 L447.2,357.3 C450.5,357.5 451,363 447.2,362.9 L446,364 C443,380 440,398 437,413.5 L432.5,414.7 C435,416 434.5,420.5 430.3,420.3 C410,409 390,401.5 375,397.5 C365,395.5 356,393.5 347,394.4 C338,396 330,402 325.3,410.2 L319.9,406.4 A128,128 0 0 0 341.1,310.8 Z" fill="#e5e1f3"/><path d="M341.1,310.8 C343,324 346,334 352,343 C358,350 370,356 387.5,358.4 L447.2,362.9 L446,364 C443,380 440,398 437,413.5 L432.5,414.7 C410,404 390,397 375,394 C365,392.2 355,390.5 345,391.5 C335,393 326,398 319.9,406.4 L313.3,401.8 A120,120 0 0 0 333.2,312.2 Z" fill="#e48880"/><path d="M333.2,312.2 C336,328 341,341 353.8,349.4 C360,353 366,355 376,357 L387.5,358.4 L447.2,362.9 L446,364 C443,380 440,398 437,413.5 L432.5,414.7 C410,404 390,397 375,394 C365,392.2 355,390.5 345,391.5 C335,393 326,398 319.9,406.4 L370,392 C360,390 350,389 340,389.5 C330,390.5 320,394 313.3,401.8 L306.1,396.8 A111.2,111.2 0 0 0 324.5,313.7 Z" fill="#fbc456"/><path d="M298,349 C312,348 322,347 330,349 C342,356 352,362 365,366 C390,372 420,374 446,374 L441,402 C420,399 395,394 372,390 C352,387 336,384 322,379 C310,373 303,367 298,362 Z" fill="#fde2a8"/><path d="M347.6,309.6 C350,323 354,335 360,342 C367,349 380,352.5 395,353.8 L447.2,357.3 C450.5,357.5 451,363 447.2,362.9" fill="none" stroke="#2c2f4f" stroke-width="1.2"/><path d="M341.1,310.8 C343,324 346,334 352,343 C358,350 370,356 387.5,358.4 L447.2,362.9" fill="none" stroke="#2c2f4f" stroke-width="1"/><path d="M432.5,414.7 C435,416 434.5,420.5 430.3,420.3 C410,409 390,401.5 375,397.5 C365,395.5 356,393.5 347,394.4 C338,396 330,402 325.3,410.2" fill="none" stroke="#2c2f4f" stroke-width="1.2"/><path d="M432.5,414.7 C410,404 390,397 375,394 C365,392.2 355,390.5 345,391.5 C335,393 326,398 319.9,406.4" fill="none" stroke="#2c2f4f" stroke-width="1"/><path d="M333.2,312.2 C336,328 341,341 353.8,349.4 C360,353 366,355 376,357" fill="none" stroke="#2c2f4f" stroke-width="1"/><path d="M370,392 C360,390 350,389 340,389.5 C330,390.5 320,394 313.3,401.8" fill="none" stroke="#2c2f4f" stroke-width="1"/><path d="M323.8,309.9 A111.2,111.2 0 0 1 324.2,354.2 M319.8,370.1 A111.2,111.2 0 0 1 303.8,399.9" fill="none" stroke="#2c2f4f" stroke-width="1"/><clipPath id="sal"><circle cx="215" cy="333" r="127.5"/></clipPath><path clip-path="url(#sal)" d="M170,210 L162.7,227.9 L143.5,274 L142.4,300 L142.4,393 L149.4,418.3 L163.5,439.4 L170,456 L60,456 L60,210 Z" fill="#e48880"/><g stroke="#d95e68" stroke-width="0.9" fill-rule="nonzero"><path d="M108.4,273.5 Q118,258 131,246.5 Q136,256 135.5,268 Q120,268 108.4,273.5 Z" fill="#e2767a" opacity="0.45"/><path d="M108.4,273.5 Q121.7,257.8 131,247"/><path d="M108.4,273.5 Q124.0,259.0 135.6,249.5"/><path d="M108.4,273.5 Q124.2,261.2 136,254"/><path d="M108.4,273.5 Q124.2,263.5 136,258.5"/><path d="M108.4,273.5 Q124.1,265.8 135.8,263"/><path d="M108.4,273.5 Q123.6,267.8 134.8,267"/></g><g stroke="#d95e68" stroke-width="0.9" transform="matrix(1,0,0,-1,0,667.0)"><path d="M108.4,273.5 Q118,258 131,246.5 Q136,256 135.5,268 Q120,268 108.4,273.5 Z" fill="#e2767a" opacity="0.45"/><path d="M108.4,273.5 Q121.7,257.8 131,247"/><path d="M108.4,273.5 Q124.0,259.0 135.6,249.5"/><path d="M108.4,273.5 Q124.2,261.2 136,254"/><path d="M108.4,273.5 Q124.2,263.5 136,258.5"/><path d="M108.4,273.5 Q124.1,265.8 135.8,263"/><path d="M108.4,273.5 Q123.6,267.8 134.8,267"/></g><path d="M200,338.3 C240,341 275,344.5 304,348.5 L304,361.5 C275,355 240,348.5 200,341.8 Z" fill="#fbd68e"/><g fill="none" stroke-linecap="round" stroke-linejoin="round"><g stroke="#cc4448" stroke-width="2.4"><path d="M232.7,243.3 C234.4,245.0 238.9,250.2 243.0,253.6 C247.1,257.0 252.7,261.1 257.5,263.9 C262.3,266.6 267.8,268.0 271.9,270.1 C276.0,272.2 278.8,273.9 282.2,276.3 C285.6,278.7 289.8,281.1 292.6,284.5 C295.4,287.9 297.4,291.4 298.8,296.9 C300.2,302.4 300.5,310.4 300.8,317.6 C301.1,324.8 300.1,334.1 300.8,340.0 C301.5,345.9 303.6,349.6 305.0,353.0 C306.4,356.4 308.3,359.2 309.0,360.5"/><path d="M234.8,273.2 C237.6,274.1 245.8,277.4 251.3,278.3 C256.8,279.2 262.7,278.6 267.8,278.3 C272.9,278.0 279.8,276.6 282.2,276.3"/><path d="M267.8,239.1 C268.5,241.2 271.2,247.4 271.9,251.5 C272.6,255.6 270.9,259.9 271.9,263.9 C272.9,267.8 277.1,273.3 278.1,275.2"/><path d="M218.3,308.3 C221.1,309.1 229.3,312.4 234.8,313.4 C240.3,314.4 246.2,314.7 251.3,314.5 C256.4,314.3 261.2,312.2 265.7,312.4 C270.2,312.6 274.4,313.4 278.1,315.5 C281.8,317.6 285.2,320.9 288.0,325.0 C290.8,329.1 293.8,337.5 295.0,340.0"/><path d="M234.8,292.8 C236.5,293.5 242.0,294.5 245.1,296.9 C248.2,299.3 251.2,304.1 253.3,307.2 C255.4,310.3 256.8,314.1 257.5,315.5"/><path d="M256.4,289.7 C258.3,290.9 264.5,293.3 267.8,296.9 C271.1,300.5 273.6,306.9 276.0,311.4 C278.4,315.9 280.1,319.9 282.2,323.7 C284.3,327.5 286.0,330.4 288.4,334.0 C290.8,337.6 294.3,341.5 296.7,345.0 C299.1,348.5 301.9,353.3 303.0,355.0"/><path d="M307.0,311.4 C306.0,313.1 302.3,318.6 300.8,321.7 C299.3,324.8 298.5,328.6 298.0,330.0"/><path d="M222.7,354.5 C225.8,354.8 236.5,354.8 241.3,356.5 C246.1,358.2 248.8,361.7 251.6,364.8 C254.3,367.9 256.8,373.4 257.8,375.1"/><path d="M226.8,377.2 C229.6,376.9 238.9,376.5 243.4,375.1 C247.9,373.7 252.0,369.9 253.7,368.9"/><path d="M241.3,389.6 C244.8,389.1 255.8,388.6 262.0,386.5 C268.2,384.4 273.0,380.8 278.5,377.2 C284.0,373.6 289.9,367.6 295.0,364.8 C300.1,362.0 306.7,361.2 309.0,360.5"/><path d="M220.7,392.7 C223.1,393.0 231.0,392.8 235.1,394.7 C239.2,396.6 243.0,401.1 245.4,404.0 C247.8,406.9 248.9,410.9 249.6,412.3"/><path d="M204.1,417.4 C207.6,416.5 218.6,413.0 224.8,412.3 C231.0,411.6 235.8,412.3 241.3,413.3 C246.8,414.3 253.3,418.3 257.8,418.5 C262.3,418.7 266.5,415.0 268.2,414.3"/><path d="M226.8,439.1 C228.5,436.7 234.1,428.1 237.2,424.7 C240.3,421.3 244.0,419.5 245.4,418.5"/><path d="M284.7,414.3 C285.0,411.2 286.0,401.7 286.7,395.8 C287.4,389.9 287.1,384.0 288.8,379.2 C290.5,374.4 293.7,369.9 297.1,366.8 C300.5,363.7 307.0,361.6 309.0,360.5"/></g><g stroke="#1c76c6" stroke-width="2.7"><path d="M286.4,255.6 C287.4,257.7 290.9,263.5 292.6,268.0 C294.3,272.5 296.4,277.7 296.7,282.5 C297.0,287.3 295.5,292.4 294.6,296.9 C293.7,301.4 291.8,304.8 291.5,309.3 C291.2,313.8 291.7,317.8 292.6,323.7 C293.5,329.6 295.0,339.6 296.7,345.0 C298.4,350.4 300.9,353.4 303.0,356.0 C305.1,358.6 308.0,359.8 309.0,360.5"/><path d="M223.4,261.8 C226.3,262.5 236.3,264.8 241.0,266.0 C245.7,267.2 246.8,267.3 251.3,269.0 C255.8,270.7 263.3,274.1 267.8,276.3 C272.3,278.6 275.0,279.8 278.1,282.5 C281.2,285.2 284.3,289.4 286.4,292.8 C288.5,296.2 289.6,300.4 290.5,303.1 C291.4,305.9 291.3,308.3 291.5,309.3"/><path d="M233.7,254.6 C235.2,256.1 240.1,261.5 243.0,263.9 C245.9,266.3 249.9,268.1 251.3,269.0"/><path d="M227.5,282.5 C229.8,283.2 236.7,284.5 241.0,286.6 C245.3,288.7 249.9,291.5 253.3,294.9 C256.7,298.3 258.8,302.7 261.6,307.2 C264.4,311.7 267.1,317.2 269.9,321.7 C272.6,326.2 275.4,330.1 278.1,334.0 C280.9,337.9 283.4,341.7 286.4,345.0 C289.4,348.3 292.2,351.4 296.0,354.0 C299.8,356.6 306.8,359.4 309.0,360.5"/><path d="M246.1,324.8 C248.0,324.4 253.5,322.5 257.5,322.7 C261.5,322.9 266.5,323.9 269.9,325.8 C273.3,327.7 276.7,332.6 278.1,334.0"/><path d="M303.9,324.8 C303.0,325.7 300.4,327.8 298.8,330.0 C297.2,332.2 295.0,335.7 294.6,338.2 C294.2,340.7 296.4,343.9 296.7,345.0"/><path d="M250.6,355.5 C252.1,356.7 256.3,360.8 259.9,362.7 C263.5,364.6 267.5,366.8 272.3,366.8 C277.1,366.8 282.7,363.8 288.8,362.7 C294.9,361.6 305.6,360.9 309.0,360.5"/><path d="M217.6,382.3 C221.6,381.8 233.9,380.8 241.3,379.2 C248.7,377.6 255.1,375.2 262.0,373.0 C268.9,370.8 277.1,367.6 282.6,365.8 C288.1,364.0 290.6,362.9 295.0,362.0 C299.4,361.1 306.7,360.8 309.0,360.5"/><path d="M288.8,366.8 C289.1,368.9 289.9,375.2 290.9,379.2 C291.9,383.2 294.3,388.7 295.0,390.6"/><path d="M205.2,395.8 C207.8,396.5 214.7,398.2 220.7,399.9 C226.7,401.6 235.1,405.1 241.3,406.1 C247.5,407.1 253.0,407.5 257.8,406.1 C262.6,404.7 266.8,401.6 270.2,397.8 C273.6,394.0 275.8,387.9 278.5,383.4 C281.2,378.9 283.3,374.4 286.7,371.0 C290.1,367.6 295.4,364.4 299.1,362.7 C302.8,360.9 307.4,360.9 309.0,360.5"/><path d="M209.3,407.1 C211.9,406.8 219.5,405.3 224.8,405.1 C230.1,404.9 238.6,405.9 241.3,406.1"/><path d="M249.6,435.0 C251.7,432.9 258.6,427.1 262.0,422.6 C265.4,418.1 268.1,412.3 270.2,408.2 C272.2,404.1 273.6,399.5 274.3,397.8"/></g><path d="M304,358.5 C320,361 335,366 355,371 C375,376 400,380 455,385.4" stroke="#cf4a4c" stroke-width="4"/><path d="M306,362.5 C318,364 330,368 350,374 C372,381 400,388 455,396.7" stroke="#1f78c6" stroke-width="3.8"/></g><clipPath id="fanclip"><path d="M141.5,300 C141.5,280 143,262 147,248 C151,236 157,228.5 163.5,227.8 C168.5,227.5 172.5,232 171,238.5 C176.1,234.9 185.1,247.7 180.0,251.3 C185.7,248.3 193.2,262.5 187.5,265.5 C193.2,262.5 200.7,276.8 195.0,279.8 C200.1,277.7 205.4,290.5 200.3,292.6 C206.2,291.6 208.7,306.5 202.8,307.5 C208.8,307.0 210.1,322.0 204.1,322.5 C210.8,323.3 208.9,340.2 202.2,339.4 C208.9,338.6 210.8,355.5 204.1,356.3 C210.1,357.1 208.2,372.1 202.2,371.3 C207.9,373.0 203.7,387.2 198.0,385.5 C204.0,388.7 196.0,403.7 190.0,400.5 C195.7,404.1 186.7,418.4 181.0,414.8 C185.8,418.8 175.8,430.8 171.0,426.8 C172.5,433 169.5,440 164,440.3 C157,440.5 151,434 147.5,423 C143.5,412 141.5,398 141.5,380 Z"/></clipPath><path d="M141.5,300 C141.5,280 143,262 147,248 C151,236 157,228.5 163.5,227.8 C168.5,227.5 172.5,232 171,238.5 C176.1,234.9 185.1,247.7 180.0,251.3 C185.7,248.3 193.2,262.5 187.5,265.5 C193.2,262.5 200.7,276.8 195.0,279.8 C200.1,277.7 205.4,290.5 200.3,292.6 C206.2,291.6 208.7,306.5 202.8,307.5 C208.8,307.0 210.1,322.0 204.1,322.5 C210.8,323.3 208.9,340.2 202.2,339.4 C208.9,338.6 210.8,355.5 204.1,356.3 C210.1,357.1 208.2,372.1 202.2,371.3 C207.9,373.0 203.7,387.2 198.0,385.5 C204.0,388.7 196.0,403.7 190.0,400.5 C195.7,404.1 186.7,418.4 181.0,414.8 C185.8,418.8 175.8,430.8 171.0,426.8 C172.5,433 169.5,440 164,440.3 C157,440.5 151,434 147.5,423 C143.5,412 141.5,398 141.5,380 Z" fill="#f6a386"/><g clip-path="url(#fanclip)"><path d="M141.5,300 C141.5,280 143,262 147,248 C151,236 157,228.5 163.5,227.8 C168.5,227.5 172.5,232 171,238.5 L142.0,339.0 Z" fill="#f6a386"/><path d="M142.0,339.0 L171,238.5 C176.1,234.9 185.1,247.7 180.0,251.3 Z" fill="#fcc7b2"/><path d="M142.0,339.0 L180,251.3 C185.7,248.3 193.2,262.5 187.5,265.5 Z" fill="#f6a386"/><path d="M142.0,339.0 L187.5,265.5 C193.2,262.5 200.7,276.8 195.0,279.8 Z" fill="#fcc7b2"/><path d="M142.0,339.0 L195,279.8 C200.1,277.7 205.4,290.5 200.3,292.6 Z" fill="#f6a386"/><path d="M142.0,339.0 L200.3,292.6 C206.2,291.6 208.7,306.5 202.8,307.5 Z" fill="#fcc7b2"/><path d="M142.0,339.0 L202.8,307.5 C208.8,307.0 210.1,322.0 204.1,322.5 Z" fill="#f6a386"/><path d="M142.0,339.0 L204.1,322.5 C210.8,323.3 208.9,340.2 202.2,339.4 Z" fill="#fcc7b2"/><path d="M142.0,339.0 L202.2,339.4 C208.9,338.6 210.8,355.5 204.1,356.3 Z" fill="#fcc7b2"/><path d="M142.0,339.0 L204.1,356.3 C210.1,357.1 208.2,372.1 202.2,371.3 Z" fill="#f6a386"/><path d="M142.0,339.0 L202.2,371.3 C207.9,373.0 203.7,387.2 198.0,385.5 Z" fill="#fcc7b2"/><path d="M142.0,339.0 L198,385.5 C204.0,388.7 196.0,403.7 190.0,400.5 Z" fill="#f6a386"/><path d="M142.0,339.0 L190,400.5 C195.7,404.1 186.7,418.4 181.0,414.8 Z" fill="#fcc7b2"/><path d="M142.0,339.0 L181,414.8 C185.8,418.8 175.8,430.8 171.0,426.8 Z" fill="#f6a386"/><path d="M171,426.8 C172.5,433 169.5,440 164,440.3 C157,440.5 151,434 147.5,423 C143.5,412 141.5,398 141.5,380 L142.0,339.0 Z" fill="#fcc7b2"/><g stroke="#d8705e" stroke-width="0.9" fill="none"><path d="M171,238.5 Q156.0,281.3 145.9,325.5"/><path d="M180,251.3 Q161.5,287.7 147.6,326.2"/><path d="M187.5,265.5 Q166.3,295.0 149.4,327.1"/><path d="M195,279.8 Q171.3,302.5 151.3,328.6"/><path d="M200.3,292.6 Q175.1,309.5 153.0,330.3"/><path d="M202.8,307.5 Q177.5,317.8 154.4,332.6"/><path d="M204.1,322.5 Q179.2,326.5 155.5,335.4"/><path d="M204.1,356.3 Q179.1,351.9 155.5,342.8"/><path d="M202.2,371.3 Q177.1,360.7 154.3,345.6"/><path d="M198,385.5 Q173.8,368.6 152.8,347.9"/><path d="M190,400.5 Q168.3,376.8 150.6,350.0"/><path d="M181,414.8 Q162.5,384.3 148.4,351.4"/><path d="M171,426.8 Q156.3,390.3 146.4,352.3"/><path d="M163.5,232 C155,240 149,258 147,290"/><path d="M164,436 C156,430 150,415 147,390"/></g></g><path d="M141.5,300 C141.5,280 143,262 147,248 C151,236 157,228.5 163.5,227.8 C168.5,227.5 172.5,232 171,238.5 C176.1,234.9 185.1,247.7 180.0,251.3 C185.7,248.3 193.2,262.5 187.5,265.5 C193.2,262.5 200.7,276.8 195.0,279.8 C200.1,277.7 205.4,290.5 200.3,292.6 C206.2,291.6 208.7,306.5 202.8,307.5 C208.8,307.0 210.1,322.0 204.1,322.5 C210.8,323.3 208.9,340.2 202.2,339.4 C208.9,338.6 210.8,355.5 204.1,356.3 C210.1,357.1 208.2,372.1 202.2,371.3 C207.9,373.0 203.7,387.2 198.0,385.5 C204.0,388.7 196.0,403.7 190.0,400.5 C195.7,404.1 186.7,418.4 181.0,414.8 C185.8,418.8 175.8,430.8 171.0,426.8 C172.5,433 169.5,440 164,440.3 C157,440.5 151,434 147.5,423 C143.5,412 141.5,398 141.5,380 Z" fill="none" stroke="#2c2f4f" stroke-width="1.1" stroke-linejoin="round"/><path d="M156,331.3 C172,334 188,337 202.2,339 L202.2,339.8 C188,340.2 172,340.8 156,341.2 Z" fill="#fbd48a"/><path d="M156,331.3 C172,334 188,337 202.2,339 M156,341.2 C172,340.8 188,340.2 202.2,339.8" stroke="#2c2f4f" stroke-width="1" fill="none"/><path d="M125,288 C130,285 137,284 141,286 L141,302 L128,302 Z" fill="#fde4d8" stroke="#2c2f4f" stroke-width="0.8"/><g stroke="#e07a6e" stroke-width="1"><path d="M127,289.0 L129,301"/><path d="M130,289.3 L132,301"/><path d="M133,289.6 L135,301"/><path d="M136,289.9 L138,301"/><path d="M139,290.2 L141,301"/></g><g transform="matrix(1,0,0,-1,0,667.0)"><path d="M125,288 C130,285 137,284 141,286 L141,302 L128,302 Z" fill="#fde4d8" stroke="#2c2f4f" stroke-width="0.8"/><g stroke="#e07a6e" stroke-width="1"><path d="M127,289.0 L129,301"/><path d="M130,289.3 L132,301"/><path d="M133,289.6 L135,301"/><path d="M136,289.9 L138,301"/><path d="M139,290.2 L141,301"/></g></g><path d="M128,311.5 C118,313 112,322 112,333 C112,344 118,353 128,355.4 Z" fill="#2f7b9c" stroke="#2c2f4f" stroke-width="1"/><ellipse cx="139.3" cy="333.4" rx="17" ry="36.6" fill="url(#lens)" stroke="#2c2f4f" stroke-width="1.1"/><ellipse cx="135.5" cy="333.4" rx="2.8" ry="7.5" fill="#2a8ad2"/><path d="M100,276 C80,290 64,312 64.8,335.9 C65,360 80,378 100,390.7 C105,392 108,390 108,386 C104,370 103,350 103,333 C103,316 104,296 108,281 C108,277 104,275 100,276 Z" fill="#cdeaf8" stroke="#2c2f4f" stroke-width="1.1"/><path d="M103,277 C111,281 116,282 117,289 L118.5,299.5 L120.8,308.6 L124,312 C114,318 112,326 112,333 C112,342 114,349 124,355 L120.8,358 L118.5,367 L117,377.5 C116,384 111,386 103,390 C99,372 97,352 97,333 C97,314 99,294 103,277 Z" fill="#cdeaf8" stroke="#2c2f4f" stroke-width="1.1"/><path d="M101,276.8 C106,276 108,279 106,283 C100,300 97.5,318 97.5,336 C97.5,352 99.5,368 104,384 C106,389 104,392 99.5,390 C93,373 90.5,355 90.5,336 C90.5,316 94,295 101,276.8 Z" fill="#2a8fd6" stroke="#2c2f4f" stroke-width="1"/><ellipse cx="94.5" cy="283.8" rx="1.5" ry="2" fill="#2a8fd6"/><ellipse cx="94.5" cy="383.2" rx="1.5" ry="2" fill="#2a8fd6"/><ellipse cx="316.5" cy="326" rx="11" ry="18" fill="#dc6464" opacity="0.6"/><ellipse cx="316.5" cy="325.8" rx="7" ry="13.5" fill="#b94339"/></g>
 <path d="M321,325.6 L440,314.8 L479,310 C492,307 499.8,300 499.8,288 L499.8,264 L480.2,265.5 L510.2,213.5 L540,265.5 L521,264 L521,290 C521,312 505,325.8 479,325.8 L440,326.2 L321,326.2 Z" fill="#323552"/><g id="eyefront"><linearGradient id="uplid" gradientUnits="userSpaceOnUse" x1="0" y1="304" x2="0" y2="340">
      <stop offset="0" stop-color="#ec8486"/><stop offset="0.12" stop-color="#ee9090"/><stop offset="0.45" stop-color="#f2a29e"/><stop offset="1" stop-color="#f7bcb2"/></linearGradient><linearGradient id="lowskin" gradientUnits="userSpaceOnUse" x1="0" y1="420" x2="0" y2="455">
      <stop offset="0" stop-color="#f8c6ba"/><stop offset="0.8" stop-color="#f8cabd"/><stop offset="1" stop-color="#f4b4aa"/></linearGradient><path d="M480,384.5 C490,365 505,350 515.3,341.7 C530,330 545,320 552.7,315.5 C565,310 578,307 590,306.2 C600,305 610,304 618,304.3 C630,303.5 640,304.5 650,307 C665,311 682,321 696.3,338 C705,346 713,354 718.8,363.9 C714,372 711,377 707.6,383 C703,391 700,394 696.3,398.8 C690,406 686,411 680.5,416.8 C674,424 668,429 662.5,432.6 C650,441 635,449 618,454 C605,455 598,454 590,452.1 C580,450 570,447.5 562,444.7 C552,441 543,436 534,431.6 C522,425 513,419 506,413 C499,406 494,398 489.2,390.5 C486,388 483,386.5 480,384.5 Z" fill="url(#lowskin)"/><path d="M690,340 C705,346 713,354 718.8,363.9 C714,372 711,377 707.6,383 L695,364 Z" fill="#f9d0c2"/><path d="M480,384.5 C490,365 505,350 515.3,341.7 C530,330 545,320 552.7,315.5 C565,310 578,307 590,306.2 C600,305 610,304 618,304.3 C630,303.5 640,304.5 650,307 C665,311 682,321 696.3,338 C705,346 713,354 718.8,363.9 L695.5,364  C694.8,363.4 695.4,362.8 691.5,360.3 C687.6,357.8 678.8,352.2 672.0,349.0 C665.2,345.8 659.7,343.3 650.7,341.0 C641.7,338.7 628.1,335.9 618.0,335.1 C607.9,334.3 599.3,335.1 590.0,336.0 C580.7,336.9 571.3,338.2 562.0,340.7 C552.7,343.2 541.8,347.4 534.0,351.0 C526.2,354.6 522.8,356.9 515.3,362.2 C507.8,367.5 494.8,378.8 489.2,382.7 C483.6,386.6 482.9,384.9 481.6,385.3 Z" fill="url(#uplid)"/><clipPath id="bandclip"><path d="M480,384.5 C490,365 505,350 515.3,341.7 C530,330 545,320 552.7,315.5 C565,310 578,307 590,306.2 C600,305 610,304 618,304.3 C630,303.5 640,304.5 650,307 C665,311 682,321 696.3,338 C705,346 713,354 718.8,363.9 L695.5,364  C694.8,363.4 695.4,362.8 691.5,360.3 C687.6,357.8 678.8,352.2 672.0,349.0 C665.2,345.8 659.7,343.3 650.7,341.0 C641.7,338.7 628.1,335.9 618.0,335.1 C607.9,334.3 599.3,335.1 590.0,336.0 C580.7,336.9 571.3,338.2 562.0,340.7 C552.7,343.2 541.8,347.4 534.0,351.0 C526.2,354.6 522.8,356.9 515.3,362.2 C507.8,367.5 494.8,378.8 489.2,382.7 C483.6,386.6 482.9,384.9 481.6,385.3 Z"/></clipPath><linearGradient id="stripefade" gradientUnits="userSpaceOnUse" x1="480" y1="0" x2="715" y2="0"><stop offset="0" stop-color="#e56f72" stop-opacity="0.3"/><stop offset="0.2" stop-color="#e56f72"/><stop offset="0.82" stop-color="#e56f72"/><stop offset="0.95" stop-color="#e56f72" stop-opacity="0"/></linearGradient><path clip-path="url(#bandclip)" d="M480,384.5 C490,365 505,350 515.3,341.7 C530,330 545,320 552.7,315.5 C565,310 578,307 590,306.2 C600,305 610,304 618,304.3 C630,303.5 640,304.5 650,307 C665,311 682,321 696.3,338 C705,346 713,354 718.8,363.9" fill="none" stroke="url(#stripefade)" stroke-width="6"/><path d="M480,384.5 C488,370 498,360 508,352 L515.3,362.2 L489.2,382.7 Z" fill="#f6bcae" opacity="0.8"/><path d="M493.0,385.9 C497.3,387.3 510.6,390.9 519.0,394.3 C527.4,397.7 534.6,402.8 543.3,406.4 C552.0,410.0 563.5,413.5 571.3,415.7 C579.1,417.9 582.2,418.6 590.0,419.5 C597.8,420.4 607.9,422.4 618.0,421.3 C628.1,420.2 642.0,416.6 650.7,413.0 C659.4,409.4 664.3,404.9 670.0,400.0 C675.7,395.1 681.1,388.2 684.7,383.6 C688.3,379.0 689.7,375.6 691.5,372.3 C693.3,369.0 694.8,365.4 695.5,364.0 L699,368  C698.0,370.2 695.4,376.9 693.0,381.0 C690.6,385.1 688.5,388.4 684.7,392.7 C680.9,397.0 675.7,402.4 670.0,407.0 C664.3,411.6 659.4,416.4 650.7,420.0 C642.0,423.6 628.1,427.5 618.0,428.8 C607.9,430.1 600.9,429.3 590.0,427.9 C579.1,426.5 565.2,424.4 552.7,420.4 C540.2,416.3 524.4,408.3 515.3,403.6 C506.2,398.9 500.9,393.9 498.0,392.0 Z" fill="#ef8f8b"/><clipPath id="whiteclip"><path d="M515.3,362.2 C518.4,360.3 526.2,354.6 534.0,351.0 C541.8,347.4 552.7,343.2 562.0,340.7 C571.3,338.2 580.7,336.9 590.0,336.0 C599.3,335.1 607.9,334.3 618.0,335.1 C628.1,335.9 641.7,338.7 650.7,341.0 C659.7,343.3 665.2,345.8 672.0,349.0 C678.8,352.2 687.6,357.8 691.5,360.3 C695.4,362.8 694.8,363.4 695.5,364.0  C694.8,365.4 693.3,369.0 691.5,372.3 C689.7,375.6 688.3,379.0 684.7,383.6 C681.1,388.2 675.7,395.1 670.0,400.0 C664.3,404.9 659.4,409.4 650.7,413.0 C642.0,416.6 628.1,420.2 618.0,421.3 C607.9,422.4 597.8,420.4 590.0,419.5 C582.2,418.6 579.1,417.9 571.3,415.7 C563.5,413.5 552.0,410.0 543.3,406.4 C534.6,402.8 523.0,396.3 519.0,394.3 C516,386 516,372 515.3,362.2 Z"/></clipPath><path d="M515.3,362.2 C518.4,360.3 526.2,354.6 534.0,351.0 C541.8,347.4 552.7,343.2 562.0,340.7 C571.3,338.2 580.7,336.9 590.0,336.0 C599.3,335.1 607.9,334.3 618.0,335.1 C628.1,335.9 641.7,338.7 650.7,341.0 C659.7,343.3 665.2,345.8 672.0,349.0 C678.8,352.2 687.6,357.8 691.5,360.3 C695.4,362.8 694.8,363.4 695.5,364.0  C694.8,365.4 693.3,369.0 691.5,372.3 C689.7,375.6 688.3,379.0 684.7,383.6 C681.1,388.2 675.7,395.1 670.0,400.0 C664.3,404.9 659.4,409.4 650.7,413.0 C642.0,416.6 628.1,420.2 618.0,421.3 C607.9,422.4 597.8,420.4 590.0,419.5 C582.2,418.6 579.1,417.9 571.3,415.7 C563.5,413.5 552.0,410.0 543.3,406.4 C534.6,402.8 523.0,396.3 519.0,394.3 C516,386 516,372 515.3,362.2 Z" fill="#e3f1f9"/><g clip-path="url(#whiteclip)" stroke="#d0e2ee" stroke-width="0.6" fill="none"><path d="M576.4,351.8 l1.2,-2.6 l0.3,-0.8"/><path d="M531.7,379.6 l-3.7,-0.4 l-3.4,-2.5"/><path d="M593.3,404.5 l-3.0,-1.7 l1.0,2.7"/><path d="M619.0,370.9 l3.8,-2.7 l2.9,-1.3"/><path d="M546.2,349.2 l-1.5,1.9 l-2.6,0.5"/><path d="M629.3,369.0 l0.4,-2.6 l-3.5,-1.8"/><path d="M636.3,373.4 l-1.5,0.5 l-0.4,-1.2"/><path d="M655.5,394.5 l-2.0,0.4 l0.2,2.3"/><path d="M644.5,362.5 l3.8,-2.3 l-0.7,1.5"/><path d="M547.5,378.1 l-3.7,1.0 l2.1,0.4"/><path d="M669.1,364.5 l1.6,0.6 l0.6,-0.3"/><path d="M663.1,413.7 l-0.2,1.0 l-3.5,1.2"/><path d="M630.7,417.5 l2.6,-1.3 l-0.9,1.0"/><path d="M525.8,376.0 l-2.7,-2.3 l-3.5,1.6"/><path d="M543.7,359.3 l-0.9,2.2 l-3.4,-0.3"/><path d="M614.3,408.9 l2.6,2.2 l-1.8,-0.5"/><path d="M582.3,409.0 l3.7,-2.1 l-2.6,-1.6"/><path d="M561.2,377.8 l0.7,-1.4 l-4.0,-0.5"/><path d="M584.0,384.2 l3.6,1.1 l0.1,0.7"/><path d="M635.6,344.2 l3.2,1.7 l3.0,1.8"/><path d="M587.9,371.1 l-3.2,0.8 l-3.5,-2.6"/><path d="M557.1,352.7 l-1.3,-2.7 l-4.0,-2.1"/><path d="M539.0,368.4 l-3.8,2.2 l0.9,-2.1"/><path d="M564.4,367.1 l-1.1,-2.3 l2.8,3.0"/><path d="M600.3,377.7 l-3.3,-2.4 l-1.3,-1.4"/><path d="M661.2,352.6 l-3.8,2.7 l0.2,-2.1"/><path d="M613.3,342.1 l0.2,2.9 l2.9,1.2"/><path d="M565.9,368.6 l-2.7,1.6 l0.3,1.7"/><path d="M577.4,357.4 l2.5,2.9 l2.8,1.8"/><path d="M659.5,397.7 l-2.2,0.1 l-1.2,-2.8"/><path d="M526.7,361.8 l-1.9,1.2 l3.7,-0.3"/><path d="M679.4,417.1 l3.6,-0.8 l-2.2,-1.6"/><path d="M555.0,355.9 l1.0,2.4 l2.7,-0.1"/><path d="M631.7,402.4 l-3.3,1.0 l3.3,1.7"/><path d="M648.0,377.3 l-2.6,1.7 l-1.3,1.8"/><path d="M685.2,370.9 l-0.8,2.7 l1.8,-2.0"/><path d="M543.3,351.8 l3.2,1.8 l-2.8,2.0"/><path d="M686.7,391.3 l-1.2,0.3 l-3.0,-2.9"/><path d="M685.1,390.7 l0.2,2.6 l-0.5,2.2"/><path d="M660.8,356.5 l-2.0,-1.2 l-2.1,0.5"/></g><g clip-path="url(#whiteclip)"><circle cx="600" cy="379" r="44.3" fill="url(#iris)"/><g stroke="#1a4d6e" stroke-width="1.3" opacity="0.55"><path d="M626.6,380.3 L642.4,381.1"/><path d="M628.3,383.5 L642.0,385.7"/><path d="M625.8,386.3 L640.9,390.6"/><path d="M626.4,390.0 L639.2,395.4"/><path d="M625.1,392.8 L637.2,399.5"/><path d="M622.1,394.7 L634.7,403.6"/><path d="M618.7,395.7 L631.7,407.3"/><path d="M617.2,398.2 L628.4,410.6"/><path d="M616.7,401.8 L625.1,413.3"/><path d="M613.2,402.4 L620.9,416.0"/><path d="M610.2,404.2 L616.0,418.4"/><path d="M607.6,405.0 L612.0,419.8"/><path d="M604.7,406.7 L607.0,420.9"/><path d="M601.8,406.2 L602.9,421.4"/><path d="M598.7,405.1 L597.9,421.4"/><path d="M595.3,405.6 L592.5,420.8"/><path d="M592.2,405.9 L588.2,419.8"/><path d="M589.4,403.6 L583.3,418.1"/><path d="M586.8,402.6 L579.3,416.1"/><path d="M583.9,401.6 L575.4,413.7"/><path d="M581.9,399.3 L571.7,410.7"/><path d="M578.6,398.2 L568.3,407.3"/><path d="M576.7,395.4 L565.2,403.4"/><path d="M577.0,391.3 L562.5,399.1"/><path d="M573.4,390.0 L560.7,395.2"/><path d="M575.4,385.8 L559.0,390.3"/><path d="M573.7,383.8 L558.2,386.6"/><path d="M574.1,380.8 L557.6,381.9"/><path d="M572.3,377.8 L557.5,377.2"/><path d="M571.9,374.0 L558.2,371.5"/><path d="M573.1,371.6 L559.0,367.7"/><path d="M576.4,369.1 L560.8,362.5"/><path d="M574.9,364.7 L563.0,358.0"/><path d="M576.4,362.5 L565.1,354.7"/><path d="M579.9,361.1 L568.2,350.8"/><path d="M581.4,357.6 L572.1,346.9"/><path d="M584.3,357.4 L575.1,344.6"/><path d="M587.3,355.9 L579.5,341.8"/><path d="M589.7,354.8 L583.4,339.9"/><path d="M593.2,354.9 L588.5,338.1"/><path d="M595.6,352.6 L592.9,337.1"/><path d="M598.1,352.7 L597.0,336.6"/><path d="M601.6,352.0 L602.5,336.6"/><path d="M604.5,350.4 L606.6,337.0"/><path d="M608.2,351.3 L612.1,338.3"/><path d="M609.7,354.8 L615.8,339.5"/><path d="M613.3,354.2 L620.0,341.5"/><path d="M614.6,358.1 L624.4,344.2"/><path d="M619.0,357.6 L628.2,347.2"/><path d="M619.6,361.8 L632.0,351.0"/><path d="M623.2,362.2 L634.4,354.0"/><path d="M624.4,365.6 L637.2,358.5"/><path d="M623.2,369.1 L639.1,362.3"/><path d="M625.7,371.8 L640.9,367.5"/><path d="M628.3,373.8 L641.8,371.3"/><path d="M628.2,377.5 L642.4,376.8"/></g><g stroke="#6fb0d0" stroke-width="0.9" opacity="0.3"><path d="M622.0,379.0 L631.6,379.0"/><path d="M621.9,381.5 L636.8,383.1"/><path d="M621.4,383.9 L630.7,386.0"/><path d="M620.8,386.3 L635.0,391.2"/><path d="M619.8,388.5 L630.8,393.8"/><path d="M618.6,390.7 L628.3,396.8"/><path d="M617.2,392.7 L627.3,400.7"/><path d="M615.6,394.6 L626.5,405.5"/><path d="M613.7,396.2 L620.5,404.7"/><path d="M611.7,397.6 L617.0,406.0"/><path d="M609.5,398.8 L615.1,410.3"/><path d="M607.3,399.8 L610.8,409.8"/><path d="M604.9,400.4 L607.1,410.0"/><path d="M602.5,400.9 L603.6,410.9"/><path d="M600.0,401.0 L600.0,410.4"/><path d="M597.5,400.9 L596.4,411.2"/><path d="M595.1,400.4 L592.6,411.4"/><path d="M592.7,399.8 L589.1,410.3"/><path d="M590.5,398.8 L584.2,411.7"/><path d="M588.3,397.6 L582.4,407.0"/><path d="M586.3,396.2 L578.5,406.0"/><path d="M584.4,394.6 L577.2,401.8"/><path d="M582.8,392.7 L573.9,399.8"/><path d="M581.4,390.7 L573.6,395.6"/><path d="M580.2,388.5 L570.5,393.2"/><path d="M579.2,386.3 L570.6,389.3"/><path d="M578.6,383.9 L564.8,387.0"/><path d="M578.1,381.5 L565.4,382.9"/><path d="M578.0,379.0 L567.7,379.0"/><path d="M578.1,376.5 L565.9,375.2"/><path d="M578.6,374.1 L563.4,370.6"/><path d="M579.2,371.7 L570.0,368.5"/><path d="M580.2,369.5 L566.9,363.1"/><path d="M581.4,367.3 L571.2,360.9"/><path d="M582.8,365.3 L573.1,357.5"/><path d="M584.4,363.4 L573.9,352.9"/><path d="M586.3,361.8 L579.0,352.6"/><path d="M588.3,360.4 L581.6,349.7"/><path d="M590.5,359.2 L584.5,346.7"/><path d="M592.7,358.2 L587.5,343.2"/><path d="M595.1,357.6 L592.6,346.4"/><path d="M597.5,357.1 L595.9,342.4"/><path d="M600.0,357.0 L600.0,343.1"/><path d="M602.5,357.1 L604.0,343.8"/><path d="M604.9,357.6 L607.5,346.0"/><path d="M607.3,358.2 L611.0,347.4"/><path d="M609.5,359.2 L613.6,350.7"/><path d="M611.7,360.4 L617.0,352.0"/><path d="M613.7,361.8 L619.6,354.4"/><path d="M615.6,363.4 L625.6,353.4"/><path d="M617.2,365.3 L625.6,358.6"/><path d="M618.6,367.3 L627.2,361.9"/><path d="M619.8,369.5 L628.5,365.3"/><path d="M620.8,371.7 L634.8,366.8"/><path d="M621.4,374.1 L636.2,370.7"/><path d="M621.9,376.5 L635.5,375.0"/></g><circle cx="600" cy="379" r="43.4" fill="none" stroke="#1a4867" stroke-width="1.8" opacity="0.9"/><circle cx="600.2" cy="378" r="21.5" fill="#3d6f92" opacity="0.5"/><circle cx="600.2" cy="378" r="19.8" fill="url(#pupil)"/><clipPath id="pupclip"><circle cx="600.2" cy="378" r="19.8"/></clipPath><ellipse cx="611" cy="364" rx="17" ry="11.5" transform="rotate(38 611 364)" fill="#9fb1cb" opacity="0.22"/><ellipse clip-path="url(#pupclip)" cx="611" cy="364" rx="17" ry="11.5" transform="rotate(38 611 364)" fill="#a8b8d2" opacity="0.35"/><circle cx="621.7" cy="350.5" r="2.6" fill="#a6c2d6" opacity="0.75"/><circle cx="573.6" cy="400" r="2.6" fill="#a6c2d6" opacity="0.75"/></g><path d="M489.5,383.5 C498,378 508,369 515.3,362.2 C513,374 513,385 519,394.3 C510,391 500,388 493,386 Z" fill="#e98786"/><ellipse cx="502" cy="384" rx="2.6" ry="2.2" fill="#f8d0cc" opacity="0.9"/><ellipse cx="511.5" cy="381" rx="1.2" ry="1.9" fill="#f8d0cc" opacity="0.9"/><path d="M481.6,385.3 C482.9,384.9 483.6,386.6 489.2,382.7 C494.8,378.8 507.8,367.5 515.3,362.2 C522.8,356.9 526.2,354.6 534.0,351.0 C541.8,347.4 552.7,343.2 562.0,340.7 C571.3,338.2 580.7,336.9 590.0,336.0 C599.3,335.1 607.9,334.3 618.0,335.1 C628.1,335.9 641.7,338.7 650.7,341.0 C659.7,343.3 665.2,345.8 672.0,349.0 C678.8,352.2 687.6,357.8 691.5,360.3 C695.4,362.8 694.8,363.4 695.5,364.0" fill="none" stroke="#2c2f4f" stroke-width="1.3"/><path d="M493.0,385.9 C497.3,387.3 510.6,390.9 519.0,394.3 C527.4,397.7 534.6,402.8 543.3,406.4 C552.0,410.0 563.5,413.5 571.3,415.7 C579.1,417.9 582.2,418.6 590.0,419.5 C597.8,420.4 607.9,422.4 618.0,421.3 C628.1,420.2 642.0,416.6 650.7,413.0 C659.4,409.4 664.3,404.9 670.0,400.0 C675.7,395.1 681.1,388.2 684.7,383.6 C688.3,379.0 689.7,375.6 691.5,372.3 C693.3,369.0 694.8,365.4 695.5,364.0" fill="none" stroke="#2c2f4f" stroke-width="0.9"/><path d="M515.3,403.6 C521.5,406.4 540.2,416.3 552.7,420.4 C565.2,424.4 579.1,426.5 590.0,427.9 C600.9,429.3 607.9,430.1 618.0,428.8 C628.1,427.5 642.0,423.6 650.7,420.0 C659.4,416.4 664.3,411.6 670.0,407.0 C675.7,402.4 680.9,397.0 684.7,392.7 C688.5,388.4 690.6,385.1 693.0,381.0 C695.4,376.9 698.0,370.2 699.0,368.0" fill="none" stroke="#5a3a50" stroke-width="0.6" opacity="0.6"/><g fill="#33292c" stroke="#33292c" stroke-width="0.35"><path d="M499.9,367.6 Q491.6,368.8 485.0,364.1 Q491.7,369.7 500.1,369.6 Z"/><path d="M503.4,365.6 Q493.1,365.9 484.7,360.3 Q493.0,366.8 503.3,367.6 Z"/><path d="M509.2,361.5 Q498.9,361.1 490.9,355.1 Q498.8,362.0 509.0,363.5 Z"/><path d="M511.9,359.1 Q503.8,359.9 497.8,355.0 Q503.8,360.8 511.9,361.1 Z"/><path d="M516.6,356.4 Q508.0,356.1 502.1,350.3 Q507.9,357.0 516.4,358.4 Z"/><path d="M519.8,353.8 Q511.6,353.6 506.1,347.9 Q511.5,354.5 519.6,355.7 Z"/><path d="M524.4,350.6 Q516.9,349.9 512.6,344.0 Q516.7,350.8 524.1,352.6 Z"/><path d="M530.3,348.7 Q521.8,345.4 517.4,337.7 Q521.4,346.3 529.5,350.6 Z"/><path d="M535.0,347.0 Q527.3,345.0 523.6,338.4 Q527.0,345.8 534.4,348.9 Z"/><path d="M540.5,342.9 Q532.4,338.9 528.8,330.8 Q531.9,339.6 539.5,344.7 Z"/><path d="M543.0,343.7 Q535.2,339.1 532.3,330.8 Q534.7,339.8 541.8,345.3 Z"/><path d="M549.2,340.8 Q541.1,337.7 537.4,330.2 Q540.7,338.5 548.3,342.6 Z"/><path d="M553.5,339.3 Q545.7,333.3 543.1,324.2 Q545.2,334.0 552.2,340.8 Z"/><path d="M558.7,338.0 Q548.9,327.1 546.4,312.8 Q548.2,327.7 557.2,339.3 Z"/><path d="M562.6,334.6 Q552.2,327.0 548.7,315.0 Q551.7,327.7 561.3,336.1 Z"/><path d="M567.3,335.4 Q557.9,324.5 556.0,310.6 Q557.2,325.1 565.7,336.6 Z"/><path d="M573.5,333.4 Q565.8,325.8 565.6,315.3 Q565.1,326.4 572.0,334.7 Z"/><path d="M579.1,333.1 Q570.7,322.0 570.1,308.5 Q570.0,322.6 577.5,334.2 Z"/><path d="M583.8,330.9 Q577.2,320.7 578.5,308.8 Q576.4,321.1 582.1,331.9 Z"/><path d="M587.4,331.0 Q581.1,320.9 582.7,309.4 Q580.3,321.4 585.6,332.0 Z"/><path d="M594.2,332.3 Q587.4,321.3 588.5,308.7 Q586.6,321.8 592.5,333.3 Z"/><path d="M598.7,331.6 Q593.2,318.4 595.9,304.6 Q592.4,318.7 596.8,332.3 Z"/><path d="M604.1,329.7 Q597.0,319.7 597.8,307.8 Q596.2,320.2 602.4,330.8 Z"/><path d="M609.5,330.2 Q604.5,320.5 607.6,310.5 Q603.7,320.9 607.7,331.0 Z"/><path d="M612.9,330.1 Q608.6,316.2 613.5,302.8 Q607.7,316.5 610.9,330.6 Z"/><path d="M619.6,330.1 Q615.9,317.2 621.3,305.3 Q615.0,317.4 617.6,330.5 Z"/><path d="M624.1,330.3 Q622.3,318.4 629.2,309.0 Q621.4,318.5 622.1,330.5 Z"/><path d="M630.5,332.9 Q627.0,320.0 632.6,308.3 Q626.1,320.2 628.5,333.3 Z"/><path d="M635.1,333.7 Q633.8,321.4 641.2,311.9 Q632.9,321.4 633.1,333.8 Z"/><path d="M638.6,334.0 Q637.6,320.1 645.3,308.8 Q636.7,320.1 636.6,334.1 Z"/><path d="M643.5,333.7 Q644.9,322.2 654.1,315.5 Q644.1,322.0 641.5,333.4 Z"/><path d="M650.1,335.4 Q654.4,321.5 665.9,313.0 Q653.5,321.2 648.2,334.8 Z"/><path d="M653.5,337.4 Q654.8,326.3 663.8,320.3 Q653.9,326.2 651.5,337.0 Z"/><path d="M657.7,337.8 Q660.6,325.7 670.7,318.9 Q659.7,325.4 655.8,337.3 Z"/><path d="M662.9,339.3 Q668.1,324.9 680.4,316.2 Q667.3,324.5 661.0,338.5 Z"/><path d="M667.3,341.8 Q672.3,331.4 683.1,328.0 Q671.5,331.0 665.6,340.9 Z"/><path d="M674.1,345.0 Q681.1,334.8 693.0,332.3 Q680.4,334.2 672.5,343.8 Z"/><path d="M677.2,345.9 Q686.6,335.5 700.1,333.2 Q685.9,334.9 675.8,344.5 Z"/><path d="M681.9,348.1 Q687.3,338.3 697.9,335.9 Q686.6,337.8 680.2,347.1 Z"/><path d="M685.7,351.3 Q696.0,339.3 711.0,335.1 Q695.3,338.6 684.2,349.9 Z"/><path d="M690.5,352.5 Q698.5,343.7 710.1,343.3 Q697.9,343.1 689.0,351.1 Z"/><path d="M694.7,357.4 Q707.6,349.5 722.5,350.4 Q707.2,348.7 693.8,355.7 Z"/><path d="M699.5,360.6 Q711.6,354.0 724.9,356.6 Q711.3,353.2 698.6,358.8 Z"/><path d="M703.4,361.0 Q715.1,354.7 727.8,357.4 Q714.7,353.9 702.6,359.2 Z"/></g><g fill="#33292c" stroke="#33292c" stroke-width="0.3"><path d="M515.3,406.3 Q508.8,408.3 505.2,414.2 Q509.0,409.0 515.6,408.0 Z"/><path d="M520.1,407.4 Q512.5,409.8 507.6,416.4 Q512.7,410.6 520.6,409.1 Z"/><path d="M523.7,411.1 Q516.2,412.2 510.7,417.7 Q516.3,412.9 523.9,412.8 Z"/><path d="M528.8,412.6 Q521.1,415.3 516.2,422.2 Q521.3,416.1 529.3,414.2 Z"/><path d="M532.5,413.9 Q523.6,419.3 518.1,428.3 Q524.0,420.0 533.3,415.4 Z"/><path d="M538.1,416.1 Q527.9,419.8 520.3,427.7 Q528.2,420.6 538.6,417.8 Z"/><path d="M542.7,417.8 Q536.7,421.2 534.3,428.0 Q537.0,421.9 543.4,419.4 Z"/><path d="M547.3,419.5 Q540.8,423.6 538.0,430.9 Q541.2,424.2 548.1,421.0 Z"/><path d="M552.6,423.9 Q545.1,427.4 540.8,434.7 Q545.4,428.1 553.3,425.5 Z"/><path d="M557.2,424.2 Q550.6,428.6 547.7,436.2 Q551.0,429.2 558.1,425.6 Z"/><path d="M561.7,424.5 Q555.2,427.1 551.7,433.5 Q555.4,427.8 562.2,426.1 Z"/><path d="M567.5,427.2 Q560.9,430.5 557.6,437.4 Q561.2,431.2 568.2,428.7 Z"/><path d="M571.9,427.4 Q565.4,432.7 562.9,440.9 Q565.9,433.3 572.9,428.7 Z"/><path d="M578.5,430.1 Q572.7,433.2 570.4,439.7 Q573.0,433.9 579.2,431.6 Z"/><path d="M581.8,430.0 Q574.6,434.6 571.1,442.6 Q575.0,435.3 582.6,431.4 Z"/><path d="M587.9,428.5 Q580.9,436.3 578.1,446.5 Q581.4,436.8 589.1,429.7 Z"/><path d="M593.5,431.6 Q589.2,437.8 589.6,445.6 Q589.8,438.3 594.8,432.6 Z"/><path d="M597.1,429.9 Q593.7,438.7 595.2,448.2 Q594.4,439.0 598.7,430.6 Z"/><path d="M604.0,431.8 Q600.4,440.9 601.8,450.8 Q601.1,441.3 605.5,432.5 Z"/><path d="M608.1,431.5 Q606.8,441.3 610.4,450.6 Q607.6,441.4 609.8,431.8 Z"/><path d="M612.9,432.4 Q610.1,439.6 612.1,447.4 Q610.7,440.0 614.5,433.1 Z"/><path d="M617.9,430.5 Q615.1,439.5 617.2,449.0 Q615.8,439.8 619.5,431.0 Z"/><path d="M623.0,430.0 Q620.8,438.7 623.6,447.5 Q621.6,438.9 624.6,430.5 Z"/><path d="M628.6,429.0 Q626.4,435.2 629.2,441.4 Q627.2,435.5 630.2,429.6 Z"/><path d="M633.4,428.2 Q630.3,437.0 632.2,446.2 Q631.0,437.2 635.0,428.8 Z"/><path d="M639.4,426.5 Q638.6,434.1 642.7,440.7 Q639.4,434.2 641.1,426.8 Z"/><path d="M644.5,425.6 Q643.6,432.1 647.5,437.8 Q644.3,432.3 646.2,426.0 Z"/><path d="M648.6,424.3 Q647.7,431.8 651.7,438.6 Q648.5,432.0 650.2,424.6 Z"/><path d="M653.3,422.3 Q652.9,429.0 657.3,434.3 Q653.7,429.1 655.0,422.5 Z"/><path d="M657.1,418.2 Q655.9,425.4 659.6,432.1 Q656.6,425.6 658.8,418.6 Z"/><path d="M662.2,416.0 Q663.1,423.3 668.5,428.6 Q663.8,423.3 663.8,415.9 Z"/><path d="M666.7,411.6 Q667.5,419.0 672.8,424.6 Q668.2,419.0 668.4,411.5 Z"/><path d="M669.8,411.1 Q674.0,420.7 682.3,427.6 Q674.8,420.5 671.4,410.4 Z"/><path d="M673.9,405.4 Q677.6,412.8 685.0,417.0 Q678.3,412.5 675.5,404.7 Z"/><path d="M678.0,403.9 Q682.4,410.9 690.1,414.2 Q683.0,410.5 679.5,403.1 Z"/><path d="M681.1,401.1 Q684.7,406.7 691.4,408.6 Q685.4,406.4 682.6,400.3 Z"/><path d="M684.5,395.8 Q689.2,404.9 697.8,410.9 Q689.9,404.6 686.0,395.1 Z"/><path d="M688.4,392.3 Q692.1,399.3 699.4,402.8 Q692.8,399.0 689.9,391.6 Z"/><path d="M690.8,388.9 Q694.4,394.5 701.0,396.3 Q695.0,394.2 692.3,388.1 Z"/><path d="M694.4,382.7 Q700.2,388.1 708.3,389.1 Q700.8,387.5 695.6,381.5 Z"/></g></g>
</svg>
</body></html>
